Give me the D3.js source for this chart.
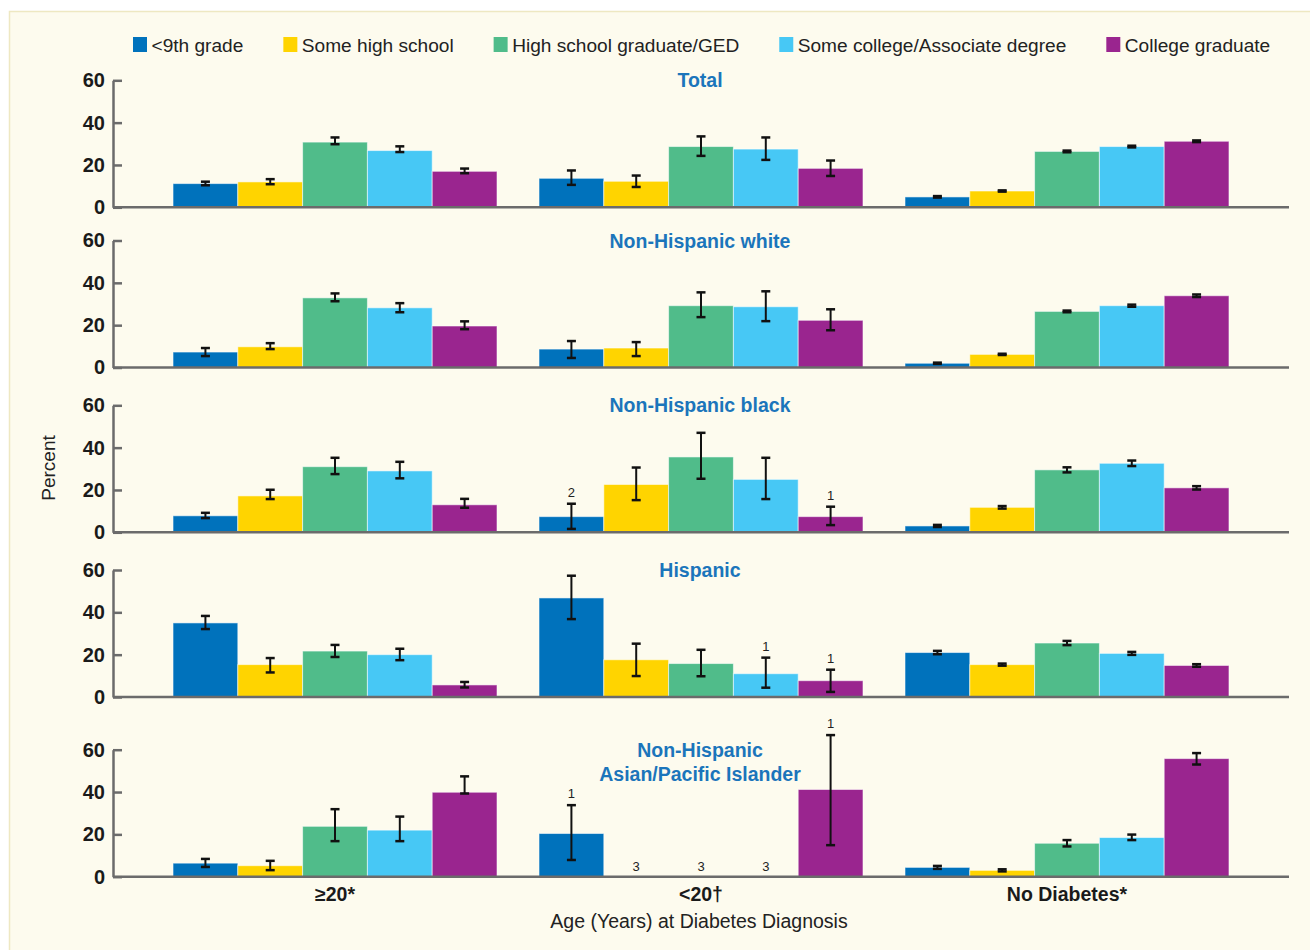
<!DOCTYPE html>
<html>
<head>
<meta charset="utf-8">
<script src="https://cdn.jsdelivr.net/npm/d3@7"></script>
<style>
  html, body { margin: 0; padding: 0; background: #ffffff; }
  svg { display: block; font-family: "Liberation Sans", Arial, sans-serif; }
</style>
</head>
<body>
<svg id="chart" width="1310" height="950"></svg>
<script>
// Age groups at diagnosis (x categories) and education levels (series)
const groups = ["≥20*", "<20†", "No Diabetes*"];
const levels = ["<9th grade", "Some high school", "High school graduate/GED",
                "Some college/Associate degree", "College graduate"];
const levelColors = ["#0072BC", "#FFD400", "#50BC8A", "#47C8F5", "#9A258F"];
const yTicks = [0, 20, 40, 60];

// Percent by group (rows) and education level (columns), with 95% CI bounds
const totalPct = [[11.2, 12.0, 30.8, 26.8, 17.0], [13.7, 12.3, 28.7, 27.5, 18.4], [4.9, 7.7, 26.4, 28.7, 31.2]];
const totalLo  = [[10.4, 10.9, 29.8, 26.1, 16.1], [10.6, 9.6, 24.3, 22.4, 14.8], [4.6, 7.4, 26.0, 28.3, 30.8]];
const totalHi  = [[12.1, 13.3, 33.0, 28.8, 18.3], [17.4, 15.0, 33.5, 33.0, 22.1], [5.3, 8.0, 26.8, 29.1, 31.6]];

const whitePct = [[7.3, 9.8, 32.9, 28.2, 19.6], [8.7, 9.2, 29.2, 28.7, 22.3], [2.0, 6.2, 26.5, 29.2, 33.9]];
const whiteLo  = [[5.4, 8.7, 31.3, 26.1, 18.1], [4.5, 5.4, 23.8, 21.9, 17.6], [1.7, 5.9, 26.1, 28.7, 33.3]];
const whiteHi  = [[9.2, 11.5, 35.0, 30.4, 21.8], [12.5, 12.0, 35.5, 36.0, 27.5], [2.3, 6.5, 26.9, 29.7, 34.5]];

const blackPct = [[7.8, 17.2, 31.0, 29.0, 13.0], [7.4, 22.6, 35.6, 25.0, 7.4], [3.0, 11.8, 29.5, 32.6, 21.0]];
const blackLo  = [[6.7, 15.7, 27.5, 25.5, 11.6], [1.6, 15.2, 25.3, 15.7, 3.4], [2.5, 11.2, 28.3, 31.3, 20.2]];
const blackHi  = [[9.2, 20.1, 35.2, 33.3, 15.8], [13.5, 30.6, 47.0, 35.2, 12.1], [3.5, 12.4, 30.7, 33.9, 21.8]];
const blackNotes = [[null, null, null, null, null], ["2", null, null, null, "1"], [null, null, null, null, null]];

const hispPct = [[35.0, 15.3, 21.7, 20.0, 5.7], [46.8, 17.6, 15.8, 11.0, 7.7], [21.0, 15.3, 25.5, 20.6, 14.9]];
const hispLo  = [[32.1, 11.6, 18.9, 17.4, 4.5], [36.8, 9.9, 9.8, 4.4, 2.4], [20.2, 14.8, 24.5, 19.9, 14.3]];
const hispHi  = [[38.3, 18.4, 24.6, 22.8, 7.1], [57.3, 25.2, 22.3, 18.6, 12.9], [21.8, 15.8, 26.5, 21.3, 15.5]];
const hispNotes = [[null, null, null, null, null], [null, null, null, "1", "1"], [null, null, null, null, null]];

const asianPct = [[6.4, 5.2, 23.8, 22.0, 39.9], [20.4, null, null, null, 41.2], [4.4, 3.0, 15.8, 18.5, 55.8]];
const asianLo  = [[4.6, 3.1, 16.8, 16.8, 39.3], [7.9, null, null, null, 14.9], [3.7, 2.5, 14.3, 17.3, 53.0]];
const asianHi  = [[8.4, 7.5, 31.9, 28.4, 47.4], [33.8, null, null, null, 66.9], [5.1, 3.5, 17.3, 19.9, 58.4]];
const asianNotes = [[null, null, null, null, null], ["1", "3", "3", "3", "1"], [null, null, null, null, null]];

const panels = [
  { title: ["Total"], pct: totalPct, lo: totalLo, hi: totalHi, notes: null },
  { title: ["Non-Hispanic white"], pct: whitePct, lo: whiteLo, hi: whiteHi, notes: null },
  { title: ["Non-Hispanic black"], pct: blackPct, lo: blackLo, hi: blackHi, notes: blackNotes },
  { title: ["Hispanic"], pct: hispPct, lo: hispLo, hi: hispHi, notes: hispNotes },
  { title: ["Non-Hispanic", "Asian/Pacific Islander"], pct: asianPct, lo: asianLo, hi: asianHi, notes: asianNotes }
];

// ---- layout ----
const svg = d3.select("#chart");
const axisLeft = 113, axisRight = 1289;
const panelBase = [207.3, 367.5, 532.3, 697, 876.7];
const panelSpan = 127;
const titleColor = "#1B75BB";
const axisColor = "#6b6b6b";

// page background panel
svg.append("rect").attr("x", 9.5).attr("y", 11.5).attr("width", 1320).attr("height", 960)
  .attr("fill", "#FDFBEE").attr("stroke", "#EEE8C2").attr("stroke-width", 1.5);

const x0 = d3.scaleBand().domain(groups).range([axisLeft, axisRight])
  .paddingInner(0.1148).paddingOuter(0.164);
const x1 = d3.scaleBand().domain(levels).range([0, x0.bandwidth()]).padding(0);

panels.forEach((p, pi) => {
  const base = panelBase[pi];
  const y = d3.scaleLinear().domain([0, 60]).range([base, base - panelSpan]);
  const g = svg.append("g");

  // y axis with inward ticks
  const ya = g.append("g").attr("transform", `translate(${axisLeft},0)`)
    .call(d3.axisLeft(y).tickValues(yTicks).tickSize(-9).tickPadding(8).tickSizeOuter(0));
  ya.select(".domain").attr("stroke", axisColor).attr("stroke-width", 2.5);
  ya.selectAll(".tick line").attr("stroke", axisColor).attr("stroke-width", 2.5);
  ya.selectAll(".tick text").attr("font-size", 20).attr("font-weight", "bold")
    .attr("fill", "#1a1a1a").attr("font-family", "Liberation Sans, Arial, sans-serif");

  // bars
  groups.forEach((grp, gi) => {
    levels.forEach((lev, li) => {
      const v = p.pct[gi][li];
      const bx = x0(grp) + x1(lev);
      if (v != null) {
        g.append("rect").attr("x", bx).attr("y", y(v))
          .attr("width", x1.bandwidth()).attr("height", base - y(v))
          .attr("fill", levelColors[li])
          .attr("stroke", "rgba(255,255,255,0.55)").attr("stroke-width", 1);
      }
    });
  });

  // baseline axis
  g.append("line").attr("x1", axisLeft).attr("x2", axisRight).attr("y1", base).attr("y2", base)
    .attr("stroke", axisColor).attr("stroke-width", 2.5);

  // error bars and footnote markers
  groups.forEach((grp, gi) => {
    levels.forEach((lev, li) => {
      const cx = x0(grp) + x1(lev) + x1.bandwidth() / 2;
      const lo = p.lo[gi][li], hi = p.hi[gi][li];
      if (lo != null && hi != null) {
        const eb = g.append("g").attr("stroke", "#111").attr("stroke-width", 2);
        eb.append("line").attr("x1", cx).attr("x2", cx).attr("y1", y(lo)).attr("y2", y(hi));
        eb.append("line").attr("x1", cx - 4.5).attr("x2", cx + 4.5).attr("y1", y(lo)).attr("y2", y(lo)).attr("stroke-width", 2.5);
        eb.append("line").attr("x1", cx - 4.5).attr("x2", cx + 4.5).attr("y1", y(hi)).attr("y2", y(hi)).attr("stroke-width", 2.5);
      }
      const note = p.notes ? p.notes[gi][li] : null;
      if (note) {
        const ny = hi != null ? y(hi) - 7 : base - 6;
        g.append("text").attr("x", cx).attr("y", ny).attr("text-anchor", "middle")
          .attr("font-size", 13).attr("fill", "#222").text(note);
      }
    });
  });

  // panel title
  p.title.forEach((line, k) => {
    g.append("text").attr("x", 700).attr("y", y(60) + 7 + k * 24)
      .attr("text-anchor", "middle").attr("font-size", 19.5).attr("font-weight", "bold")
      .attr("fill", titleColor).text(line);
  });
});

// x category labels
groups.forEach(grp => {
  svg.append("text").attr("x", x0(grp) + x0.bandwidth() / 2).attr("y", 901)
    .attr("text-anchor", "middle").attr("font-size", 19.5).attr("font-weight", "bold")
    .attr("fill", "#1a1a1a").text(grp);
});

// axis titles
svg.append("text").attr("x", 699).attr("y", 928).attr("text-anchor", "middle")
  .attr("font-size", 19.5).attr("fill", "#222").text("Age (Years) at Diabetes Diagnosis");
svg.append("text").attr("transform", "translate(55,468) rotate(-90)").attr("text-anchor", "middle")
  .attr("font-size", 19).attr("fill", "#222").text("Percent");

// legend
let lx = 133;
levels.forEach((lev, i) => {
  const item = svg.append("g");
  item.append("rect").attr("x", lx).attr("y", 37).attr("width", 14).attr("height", 15).attr("fill", levelColors[i]);
  const t = item.append("text").attr("x", lx + 18.5).attr("y", 51.5).attr("font-size", 19.1)
    .attr("fill", "#222").text(lev);
  lx += 18.5 + t.node().getComputedTextLength() + 40;
});
</script>
</body>
</html>
